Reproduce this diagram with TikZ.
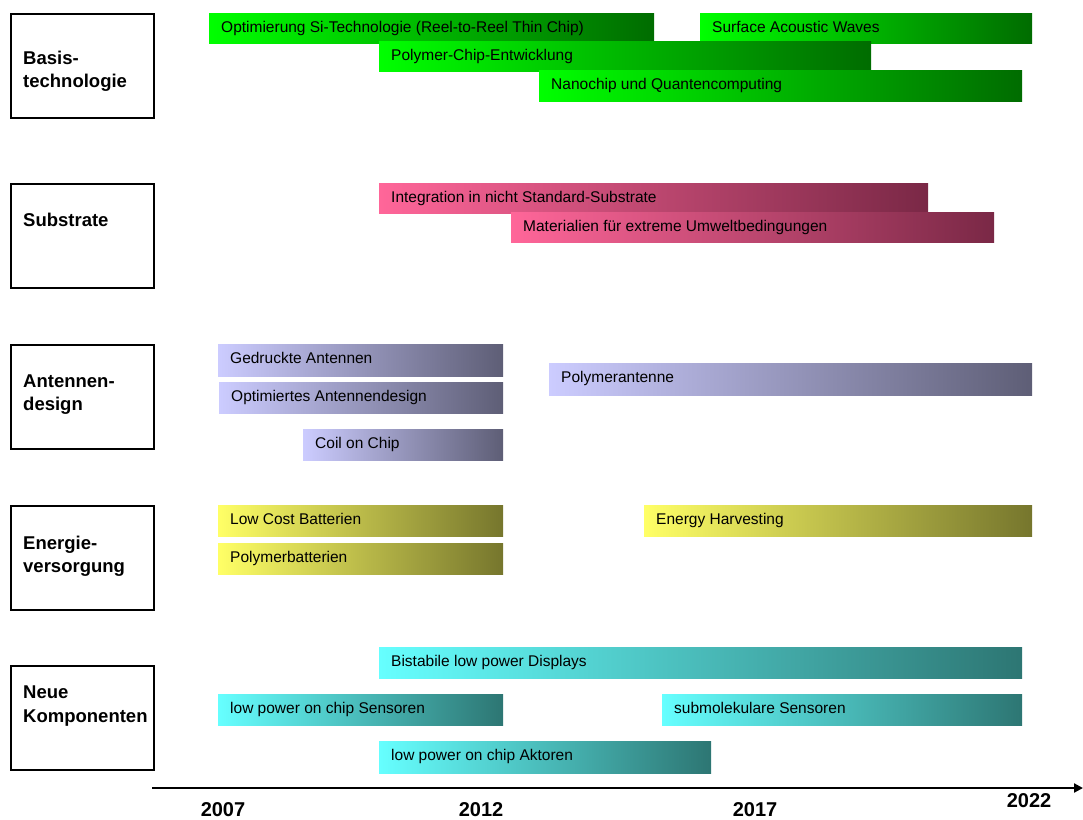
\documentclass[tikz,border=0pt]{standalone}
\usepackage{fontspec}
\setmainfont{Liberation Sans}
\usetikzlibrary{arrows.meta}

% gradient end points of the five topic rows
\definecolor{gLo}{RGB}{0,255,0}     \definecolor{gHi}{RGB}{0,108,0}
\definecolor{pLo}{RGB}{255,102,153} \definecolor{pHi}{RGB}{122,40,70}
\definecolor{vLo}{RGB}{204,204,255} \definecolor{vHi}{RGB}{94,94,118}
\definecolor{yLo}{RGB}{255,255,102} \definecolor{yHi}{RGB}{118,118,45}
\definecolor{cLo}{RGB}{102,255,255} \definecolor{cHi}{RGB}{45,118,115}

\tikzset{
  catbox/.style={draw=black, line width=2pt, fill=white, anchor=north west,
                 minimum width=143pt, minimum height=104pt, inner sep=0pt},
  cattext/.style={font=\fontsize{18.5}{22}\selectfont\bfseries, anchor=base west, inner sep=0pt},
  bartext/.style={font=\fontsize{15.5}{18}\selectfont, anchor=base west, inner sep=0pt},
  yeartext/.style={font=\fontsize{20}{24}\selectfont\bfseries, anchor=base, inner sep=0pt},
  greenbar/.style={left color=gLo, right color=gHi},
  pinkbar/.style={left color=pLo, right color=pHi},
  violetbar/.style={left color=vLo, right color=vHi},
  yellowbar/.style={left color=yLo, right color=yHi},
  cyanbar/.style={left color=cLo, right color=cHi},
}

% #1 name, #2 style, #3 left, #4 top, #5 right, #6 height, #7 label
\newcommand\tlbar[7]{%
  \path[#2] (#3,#4) rectangle (#5,#4+#6);
  \node[bartext] (#1) at (#3+12,#4+19) {#7};}

\begin{document}
\begin{tikzpicture}[x=1pt, y=-1pt]
\useasboundingbox (0,0) rectangle (1083,819);

% topic boxes
\node[catbox] (boxB) at (10,13)  {};
\node[catbox] (boxS) at (10,183) {};
\node[catbox] (boxA) at (10,344) {};
\node[catbox] (boxE) at (10,505) {};
\node[catbox] (boxN) at (10,665) {};

\node[cattext] (tB1) at (23,64)  {Basis-};
\node[cattext] (tB2) at (23,87)  {technologie};
\node[cattext] (tS1) at (23,226) {Substrate};
\node[cattext] (tA1) at (23,387) {Antennen-};
\node[cattext] (tA2) at (23,410) {design};
\node[cattext] (tE1) at (23,549) {Energie-};
\node[cattext] (tE2) at (23,572) {versorgung};
\node[cattext] (tN1) at (23,698) {Neue};
\node[cattext] (tN2) at (23,722) {Komponenten};

% Basistechnologie
\tlbar{b1}{greenbar}{209}{13}{654}{30}{Optimierung Si-Technologie (Reel-to-Reel Thin Chip)}
\tlbar{b2}{greenbar}{700}{13}{1032}{30}{Surface Acoustic Waves}
\tlbar{b3}{greenbar}{379}{41}{871}{30}{Polymer-Chip-Entwicklung}
\tlbar{b4}{greenbar}{539}{70}{1022}{31}{Nanochip und Quantencomputing}

% Substrate
\tlbar{s1}{pinkbar}{379}{183}{928}{30}{Integration in nicht Standard-Substrate}
\tlbar{s2}{pinkbar}{511}{212}{994}{30}{Materialien für extreme Umweltbedingungen}

% Antennendesign
\tlbar{a1}{violetbar}{218}{344}{503}{32}{Gedruckte Antennen}
\tlbar{a2}{violetbar}{219}{382}{503}{31}{Optimiertes Antennendesign}
\tlbar{a3}{violetbar}{303}{429}{503}{31}{Coil on Chip}
\tlbar{a4}{violetbar}{549}{363}{1032}{32}{Polymerantenne}

% Energieversorgung
\tlbar{e1}{yellowbar}{218}{505}{503}{31}{Low Cost Batterien}
\tlbar{e2}{yellowbar}{218}{543}{503}{31}{Polymerbatterien}
\tlbar{e3}{yellowbar}{644}{505}{1032}{31}{Energy Harvesting}

% Neue Komponenten
\tlbar{n1}{cyanbar}{379}{647}{1022}{31}{Bistabile low power Displays}
\tlbar{n2}{cyanbar}{218}{694}{503}{31}{low power on chip Sensoren}
\tlbar{n3}{cyanbar}{662}{694}{1022}{31}{submolekulare Sensoren}
\tlbar{n4}{cyanbar}{379}{741}{711}{32}{low power on chip Aktoren}

% time axis
\coordinate (axL) at (152,788);
\coordinate (axR) at (1083,788);
\draw[line width=2.2pt, -{Triangle[length=9pt,width=9pt]}] (axL) -- (axR);

\node[yeartext] (y07) at (223,816) {2007};
\node[yeartext] (y12) at (481,816) {2012};
\node[yeartext] (y17) at (755,816) {2017};
\node[yeartext] (y22) at (1029,807) {2022};
\end{tikzpicture}
\end{document}
